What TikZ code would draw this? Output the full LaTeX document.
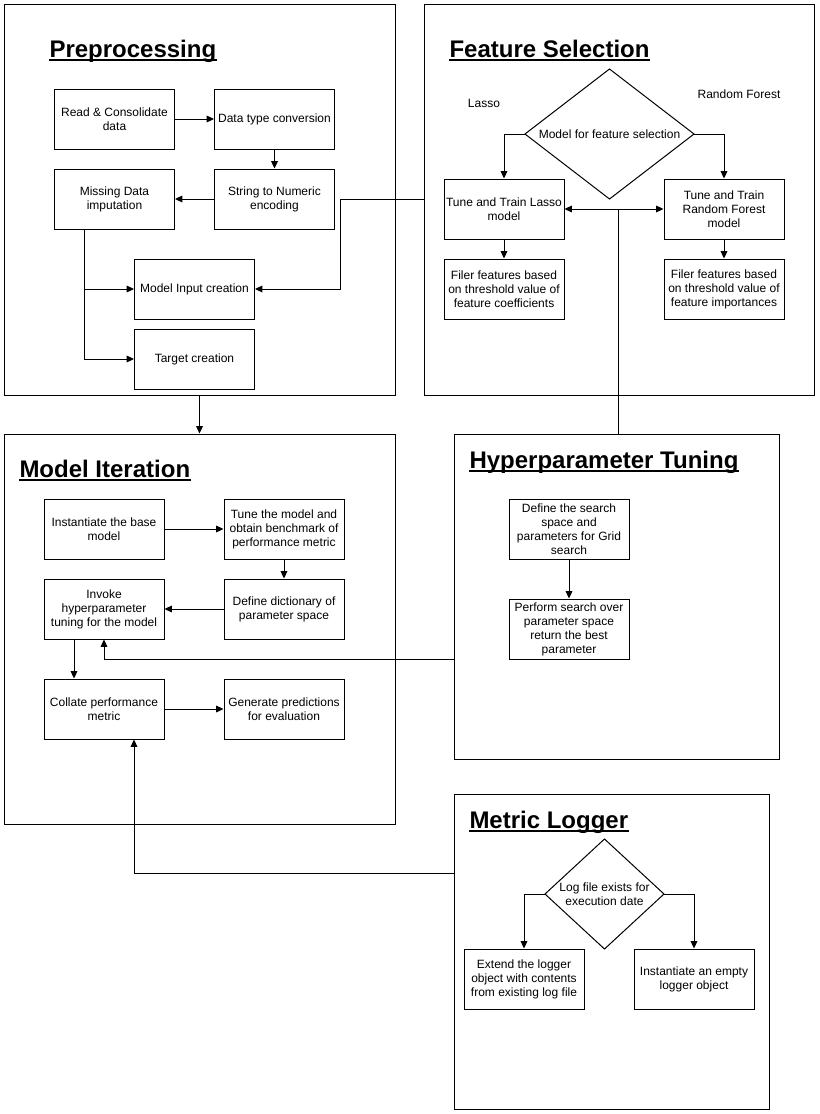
\documentclass[tikz,border=0pt]{standalone}
\usepackage{fontspec}
\setmainfont{Liberation Sans}
\usetikzlibrary{arrows.meta,shapes.geometric,calc}
\begin{document}
\begin{tikzpicture}[x=0.75pt,y=-0.75pt,
  line width=0.75pt,
  panel/.style={draw,rectangle,inner sep=0pt},
  procbox/.style={draw,rectangle,inner sep=1pt,minimum width=90pt,minimum height=45pt,
    align=center,font=\fontsize{9}{10.5}\selectfont},
  choice/.style={draw,diamond,inner sep=0pt,outer sep=0pt},
  lbl/.style={font=\fontsize{9}{10.5}\selectfont,inner sep=0pt,align=center},
  heading/.style={font=\fontsize{18}{21}\selectfont\bfseries,anchor=base west,inner sep=0pt},
  uline/.style={line width=1.4pt},
  arr/.style={-{Triangle[length=5.5pt,width=5pt]}}]
\useasboundingbox (0,0) rectangle (819,1114);
\fill[white] (0,0) rectangle (819,1114);

% panels
\node[panel,minimum width=293.25pt,minimum height=293.25pt] (pre) at (199.5,199.5) {};
\node[panel,minimum width=292.5pt,minimum height=293.25pt] (fs) at (619,199.5) {};
\node[panel,minimum width=293.25pt,minimum height=292.5pt] (mi) at (199.5,629) {};
\node[panel,minimum width=243.75pt,minimum height=243.75pt] (ht) at (616.5,596.5) {};
\node[panel,minimum width=236.25pt,minimum height=236.25pt] (ml) at (611.5,951.5) {};

% headings with their underlines
\node[heading] (preT) at (49,57) {Preprocessing};
\node[heading] (fsT) at (449,57) {Feature Selection};
\node[heading] (miT) at (19,477) {Model Iteration};
\node[heading] (htT) at (469,468) {Hyperparameter Tuning};
\node[heading] (mlT) at (469,828) {Metric Logger};
\foreach \t in {preT,fsT,miT,htT,mlT}
  \draw[uline] ($(\t.base west)+(0,3)$) -- ($(\t.base east)+(0,3)$);

% Preprocessing
\node[procbox] (read) at (114.5,119) {Read \& Consolidate\\data};
\node[procbox] (dtype) at (274.5,119) {Data type conversion};
\node[procbox] (miss) at (114.5,199) {Missing Data\\imputation};
\node[procbox] (enc) at (274.5,199) {String to Numeric\\encoding};
\node[procbox] (mic) at (194.5,289) {Model Input creation};
\node[procbox] (tgt) at (194.5,359) {Target creation};

\draw[arr] (read) -- (dtype);
\draw[arr] (dtype) -- (enc);
\draw[arr] (enc) -- (miss);
\coordinate (mbr) at ($(miss.south)+(-30,0)$);
\draw[arr] (mbr) |- (mic.west);
\draw[arr] (mbr) |- (tgt.west);

% Feature Selection
\node[choice,minimum width=126.75pt,minimum height=97.5pt] (fsq) at (609.5,134) {};
\node[lbl] (fsqT) at (fsq.center) {Model for feature selection};
\node[lbl] (lassoL) at (484,103) {Lasso};
\node[lbl] (rfL) at (739,94) {Random Forest};
\node[procbox] (lasso) at (504,209) {Tune and Train Lasso\\model};
\node[procbox] (rf) at (724,209) {Tune and Train\\Random Forest\\model};
\node[procbox] (flasso) at (504,289) {Filer features based\\on threshold value of\\feature coefficients};
\node[procbox] (frf) at (724,289) {Filer features based\\on threshold value of\\feature importances};

\draw[arr] (fsq.west) -| (lasso.north);
\draw[arr] (fsq.east) -| (rf.north);
\draw[arr] (lasso) -- (flasso);
\draw[arr] (rf) -- (frf);
\draw[arr] (fs.west) -- (340,199.5) |- (mic.east);

% Model Iteration
\node[procbox] (inst) at (104,529) {Instantiate the base\\model};
\node[procbox] (tune) at (284,529) {Tune the model and\\obtain benchmark of\\performance metric};
\node[procbox] (inv) at (104,609) {Invoke\\hyperparameter\\tuning for the model};
\node[procbox] (dict) at (284,609) {Define dictionary of\\parameter space};
\node[procbox] (coll) at (104,709) {Collate performance\\metric};
\node[procbox] (gen) at (284,709) {Generate predictions\\for evaluation};

\draw[arr] (pre.south) -- (mi.north);
\draw[arr] (inst) -- (tune);
\draw[arr] (tune) -- (dict);
\draw[arr] (dict) -- (inv);
\draw[arr] ($(inv.south)+(-30,0)$) -- ($(coll.north)+(-30,0)$);
\draw[arr] (coll) -- (gen);

% Hyperparameter Tuning
\node[procbox] (space) at (569,529) {Define the search\\space and\\parameters for Grid\\search};
\node[procbox] (search) at (569,629) {Perform search over\\parameter space\\return the best\\parameter};
\draw[arr] (space) -- (search);

\coordinate (split) at (618,209);
\draw (ht.north -| split) -- (split);
\draw[arr] (split) -- (lasso.east);
\draw[arr] (split) -- (rf.west);
\draw[arr] (ht.west |- 0,659) -| (inv.south);

% Metric Logger
\node[choice,minimum width=89.25pt,minimum height=82.5pt] (logq) at (604.5,894) {};
\node[lbl] (logqT) at (logq.center) {Log file exists for\\execution date};
\node[procbox] (ext) at (524,979) {Extend the logger\\object with contents\\from existing log file};
\node[procbox] (empty) at (694,979) {Instantiate an empty\\logger object};
\draw[arr] (logq.west) -| (ext.north);
\draw[arr] (logq.east) -| (empty.north);
\draw[arr] (ml.west |- 0,873) -| ($(coll.south)+(30,0)$);
\end{tikzpicture}
\end{document}
